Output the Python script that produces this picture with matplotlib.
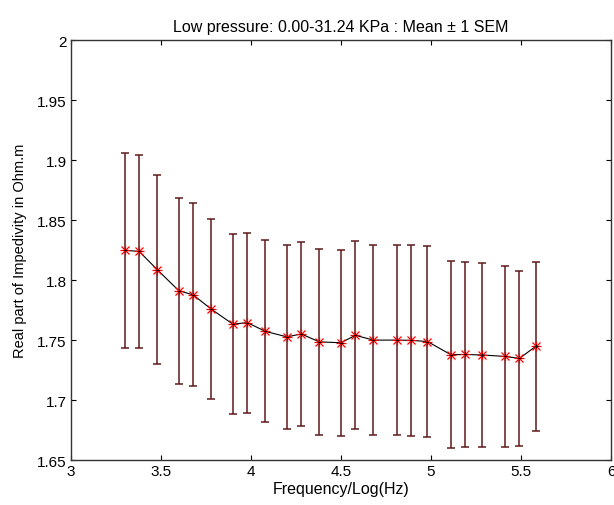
import matplotlib
matplotlib.use("Agg")
import matplotlib.pyplot as plt

# Frequency/Log(Hz) positions
log_freq = [3.30, 3.38, 3.48, 3.60, 3.68, 3.78, 3.90, 3.98, 4.08, 4.20, 4.28, 4.38,
            4.50, 4.58, 4.68, 4.81, 4.89, 4.98, 5.11, 5.19, 5.28, 5.41, 5.49, 5.58]

# mean real part of impedivity (Ohm.m)
mean_val = [1.8248, 1.8240, 1.8088, 1.7912, 1.7877, 1.7758, 1.7633, 1.7646, 1.7573, 1.7527,
            1.7551, 1.7485, 1.7478, 1.7540, 1.7500, 1.7500, 1.7498, 1.7488, 1.7378, 1.7380,
            1.7376, 1.7364, 1.7347, 1.7447]

# 1 SEM
sem_val = [0.0811, 0.0802, 0.0785, 0.0774, 0.0763, 0.0750, 0.0752, 0.0750, 0.0760, 0.0765,
           0.0770, 0.0776, 0.0774, 0.0785, 0.0790, 0.0790, 0.0795, 0.0794, 0.0779, 0.0774,
           0.0768, 0.0753, 0.0727, 0.0702]

x_ticks = [3, 3.5, 4, 4.5, 5, 5.5, 6]
y_ticks = [1.65, 1.7, 1.75, 1.8, 1.85, 1.9, 1.95, 2]

plt.rcParams['font.family'] = ['Liberation Sans', 'DejaVu Sans']

fig = plt.figure(figsize=(6.14, 5.06), dpi=100)
ax = fig.add_axes([0.1151, 0.0889, 0.8805, 0.8295])

# error bars (mean +/- 1 SEM)
ax.errorbar(log_freq, mean_val, yerr=sem_val, fmt='none', ecolor='#5e1a1a',
            elinewidth=1.1, capsize=2.9, capthick=1.1, zorder=2)
# mean line
ax.plot(log_freq, mean_val, color='black', linewidth=0.8, zorder=3)
# red asterisk markers (MATLAB style '*' = plus + cross)
ax.plot(log_freq, mean_val, linestyle='none', marker='+', markersize=7,
        color='red', markeredgewidth=0.9, zorder=4)
ax.plot(log_freq, mean_val, linestyle='none', marker='x', markersize=5.5,
        color='red', markeredgewidth=0.9, zorder=4)
ax.plot(log_freq, mean_val, linestyle='none', marker='+', markersize=3.5,
        color='black', markeredgewidth=0.6, zorder=5)

ax.set_xlim(3, 6)
ax.set_ylim(1.65, 2)
ax.set_xticks(x_ticks)
ax.set_xticklabels(['3', '3.5', '4', '4.5', '5', '5.5', '6'])
ax.set_yticks(y_ticks)
ax.set_yticklabels(['1.65', '1.7', '1.75', '1.8', '1.85', '1.9', '1.95', '2'])
ax.tick_params(direction='in', length=3.5, width=0.8, labelsize=11,
               top=True, right=True, pad=3)
for s in ax.spines.values():
    s.set_linewidth(1.0)
    s.set_color('#333333')

ax.set_title('Low pressure: 0.00-31.24 KPa : Mean \u00b1 1 SEM', fontsize=11.5, pad=7)
ax.set_xlabel('Frequency/Log(Hz)', fontsize=11.5, labelpad=2)
ax.set_ylabel('Real part of Impedivity in Ohm.m', fontsize=10.5, labelpad=7)

fig.savefig('out.png', dpi=100)
